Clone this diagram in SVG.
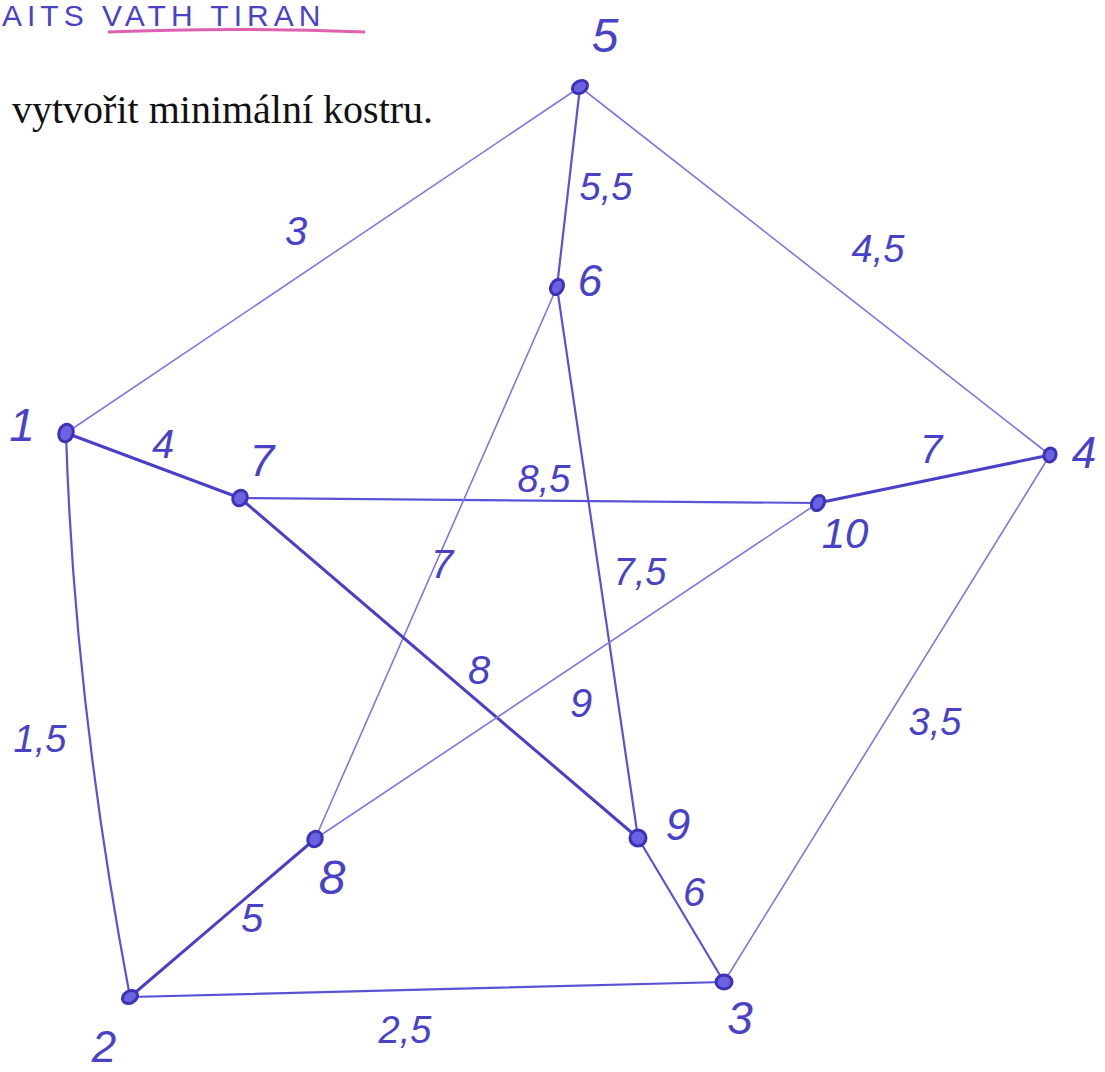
<svg xmlns="http://www.w3.org/2000/svg" width="1105" height="1072" viewBox="0 0 1105 1072">
<style>
.e{fill:none;stroke:#5a52d6;stroke-linecap:round}
.lt{stroke-width:1.6;stroke:#7d78e0}
.md{stroke-width:2.2}
.bd{stroke-width:3;stroke:#4a40c8}
.n{fill:#6a62e0;stroke:#3c32b8;stroke-width:3}
.h{font-family:"Liberation Sans",sans-serif;font-style:italic;fill:#4a42c6;font-size:40px;text-anchor:middle}
.w{font-size:38px}
.t{font-family:"Liberation Serif",serif;font-size:40px;fill:#111}
</style>
<rect width="1105" height="1072" fill="#fff"/>
<g id="header">
<text x="2" y="26" class="h" style="text-anchor:start;font-size:30px;font-style:normal;letter-spacing:5px">AITS VATH TIRAN</text>
<path d="M108 32 Q230 27 365 32" fill="none" stroke="#e060b0" stroke-width="3"/>
<text x="12" y="123" class="t">vytvořit minimální kostru.</text>
</g>
<g id="connectors">
<path id="e1-5" class="e lt" d="M66 433 L580 87"/>
<path id="e5-6" class="e md" d="M580 87 L557 287"/>
<path id="e5-4" class="e lt" d="M580 87 L1050 455"/>
<path id="e1-7" class="e bd" d="M66 433 L240 498"/>
<path id="e7-10" class="e md" d="M240 498 Q540 500 818 503"/>
<path id="e10-4" class="e bd" d="M818 503 L1050 455"/>
<path id="e6-8" class="e lt" d="M557 287 L315 839"/>
<path id="e6-9" class="e md" d="M557 287 L638 838"/>
<path id="e7-9" class="e bd" d="M240 498 L638 838"/>
<path id="e10-8" class="e lt" d="M818 503 L315 839"/>
<path id="e1-2" class="e md" d="M66 433 Q74 700 130 997"/>
<path id="e2-8" class="e bd" d="M130 997 L315 839"/>
<path id="e9-3" class="e md" d="M638 838 L724 982"/>
<path id="e4-3" class="e lt" d="M1050 455 L724 982"/>
<path id="e2-3" class="e md" d="M130 997 Q420 990 724 982"/>
</g>
<g id="edge-labels">
<text class="h" x="296" y="245">3</text>
<text class="h w" x="606" y="200">5,5</text>
<text class="h w" x="878" y="262">4,5</text>
<text class="h" x="163" y="458">4</text>
<text class="h w" x="544" y="492">8,5</text>
<text class="h" x="931" y="463">7</text>
<text class="h" x="442" y="578">7</text>
<text class="h w" x="640" y="585">7,5</text>
<text class="h" x="479" y="684">8</text>
<text class="h" x="581" y="717">9</text>
<text class="h w" x="40" y="752">1,5</text>
<text class="h w" x="935" y="735">3,5</text>
<text class="h" x="252" y="932">5</text>
<text class="h" x="694" y="906">6</text>
<text class="h w" x="405" y="1043">2,5</text>
</g>
<g id="node-1"><ellipse class="n" cx="66" cy="433" rx="7" ry="9" transform="rotate(20 66 433)"/><text class="h" x="22" y="441" style="font-size:46px">1</text></g>
<g id="node-2"><ellipse class="n" cx="130" cy="997" rx="8" ry="6" transform="rotate(-30 130 997)"/><text class="h" x="104" y="1062" style="font-size:44px">2</text></g>
<g id="node-3"><ellipse class="n" cx="724" cy="982" rx="8" ry="7"/><text class="h" x="740" y="1034" style="font-size:46px">3</text></g>
<g id="node-4"><ellipse class="n" cx="1050" cy="455" rx="6" ry="7" transform="rotate(20 1050 455)"/><text class="h" x="1084" y="468" style="font-size:44px">4</text></g>
<g id="node-5"><ellipse class="n" cx="580" cy="87" rx="8" ry="6" transform="rotate(-30 580 87)"/><text class="h" x="605" y="52" style="font-size:48px">5</text></g>
<g id="node-6"><ellipse class="n" cx="557" cy="287" rx="6" ry="8" transform="rotate(30 557 287)"/><text class="h" x="590" y="296" style="font-size:44px">6</text></g>
<g id="node-7"><ellipse class="n" cx="240" cy="498" rx="7" ry="8" transform="rotate(30 240 498)"/><text class="h" x="262" y="476" style="font-size:44px">7</text></g>
<g id="node-8"><ellipse class="n" cx="315" cy="839" rx="7" ry="8" transform="rotate(30 315 839)"/><text class="h" x="332" y="894" style="font-size:48px">8</text></g>
<g id="node-9"><ellipse class="n" cx="638" cy="838" rx="8" ry="8"/><text class="h" x="678" y="840" style="font-size:44px">9</text></g>
<g id="node-10"><ellipse class="n" cx="818" cy="503" rx="6" ry="8" transform="rotate(30 818 503)"/><text class="h" x="845" y="548" style="font-size:42px">10</text></g>
</svg>
